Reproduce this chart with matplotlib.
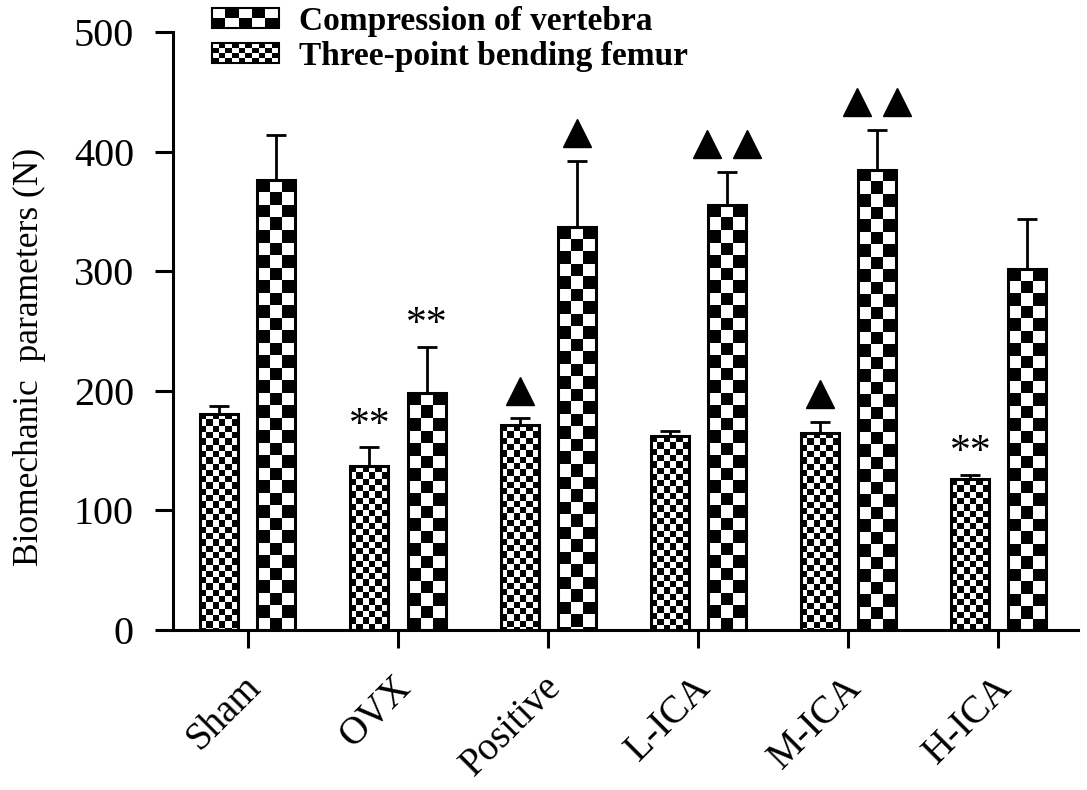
import numpy as np
import matplotlib
matplotlib.use('Agg')
import matplotlib.pyplot as plt
import matplotlib.transforms as mtransforms
from matplotlib.patches import Rectangle
from matplotlib.legend_handler import HandlerBase

groups = ['Sham', 'OVX', 'Positive', 'L-ICA', 'M-ICA', 'H-ICA']
femur = [181, 137, 171, 162, 165, 126]
femur_err = [6, 16, 6, 4, 9, 4]
vertebra = [376, 198, 337, 355, 385, 302]
vertebra_err = [38, 39, 55, 28, 33, 42]
femur_marks = ['', '**', '^', '', '^', '**']
vertebra_marks = ['', '**', '^', '^^', '^^', '']

plt.rcParams['font.family'] = ['Liberation Serif', 'DejaVu Serif']


class CheckerHandler(HandlerBase):
    def __init__(self, rows, cols):
        super().__init__()
        self.rows = rows
        self.cols = cols

    def create_artists(self, legend, orig_handle, xdescent, ydescent,
                       width, height, fontsize, trans):
        arts = []
        cw = width / self.cols
        ch = height / self.rows
        for r in range(self.rows):
            for c in range(self.cols):
                if (r + c) % 2 == 0:
                    arts.append(Rectangle((-xdescent + c * cw, -ydescent + r * ch), cw, ch,
                                          facecolor='black', edgecolor='none', transform=trans))
        arts.append(Rectangle((-xdescent, -ydescent), width, height, facecolor='none',
                              edgecolor='black', lw=1.5, transform=trans))
        return arts


fig = plt.figure(figsize=(10.87, 7.90), dpi=100)
ax = fig.add_axes([0.159, 0.2025, 0.8327, 0.757])
ax.set_xlim(-0.5, 5.53)
ax.set_ylim(0, 500)
ax.set_autoscale_on(False)

x = np.arange(len(groups))
w = 0.253
off = 0.19

bars_f = ax.bar(x - off, femur, w, facecolor='white', edgecolor='black', lw=2.2, zorder=3)
bars_v = ax.bar(x + off, vertebra, w, facecolor='white', edgecolor='black', lw=2.2, zorder=3)
ax.errorbar(x - off, femur, yerr=[np.zeros(len(femur)), femur_err], fmt='none',
            ecolor='black', elinewidth=2, capsize=7.5, capthick=2, zorder=2)
ax.errorbar(x + off, vertebra, yerr=[np.zeros(len(vertebra)), vertebra_err], fmt='none',
            ecolor='black', elinewidth=2, capsize=7.5, capthick=2, zorder=2)

# checker fill, clipped to each bar
px_h = 0.757 * 790
dy_px = 500 / px_h


def checker(bars, ncols, cell_px):
    for b in bars:
        x0, bw, top = b.get_x(), b.get_width(), b.get_height()
        ch = cell_px * dy_px
        nrows = int(np.ceil(top / ch)) + 1
        r, c = np.indices((nrows, ncols))
        img = ((r + c) % 2).astype(float)
        im = ax.imshow(img, cmap='gray', vmin=0, vmax=1, interpolation='nearest',
                       extent=(x0, x0 + bw, top - nrows * ch, top), origin='upper',
                       aspect='auto', zorder=2.5)
        im.set_clip_path(b)
        b.set_facecolor('none')


checker(bars_f, 6, 6.3)
checker(bars_v, 3, 12.5)
ax.set_xlim(-0.5, 5.53)
ax.set_ylim(0, 500)


def mark(xs, tops, marks):
    for xi, t, m in zip(xs, tops, marks):
        if m == '**':
            ax.annotate('**', xy=(xi, t), xytext=(0.5, 8), textcoords='offset points',
                        ha='center', va='baseline', fontsize=30)
        elif m:
            n = len(m)
            dxs = [0] if n == 1 else [-14.4, 14.4]
            for dx in dxs:
                tr = ax.transData + mtransforms.ScaledTranslation(dx / 72, 20 / 72, fig.dpi_scale_trans)
                ax.plot([xi], [t], marker='^', color='black', markersize=20, transform=tr,
                        clip_on=False, zorder=4)


mark(x - off, np.add(femur, femur_err), femur_marks)
mark(x + off, np.add(vertebra, vertebra_err), vertebra_marks)

for s in ['top', 'right']:
    ax.spines[s].set_visible(False)
for s in ['left', 'bottom']:
    ax.spines[s].set_linewidth(2.2)
ax.tick_params(axis='both', direction='out', length=13, width=2.2, labelsize=29)
ax.tick_params(axis='y', pad=15)
ax.tick_params(axis='x', pad=15, labelsize=28)
ax.set_yticks([0, 100, 200, 300, 400, 500])
ax.set_xticks(x)
ax.set_xticklabels(groups, rotation=45, ha='right', rotation_mode='anchor')
shift = mtransforms.ScaledTranslation(-4 / 72, 0, fig.dpi_scale_trans)
for lab in ax.get_xticklabels():
    lab.set_transform(lab.get_transform() + shift)
ax.set_ylabel('Biomechanic  parameters (N)', fontsize=25.5)
ax.yaxis.set_label_coords(-0.14, 0.457)

h_v = Rectangle((0, 0), 1, 1)
h_f = Rectangle((0, 0), 1, 1)
fig.legend([h_v, h_f], ['Compression of vertebra', 'Three-point bending femur'],
           handler_map={h_v: CheckerHandler(2, 5), h_f: CheckerHandler(4, 10)},
           loc='upper left', bbox_to_anchor=(212 / 1087, 1 - 6 / 790), frameon=False,
           borderpad=0, borderaxespad=0, handlelength=2.0, handleheight=0.55,
           handletextpad=0.6, labelspacing=0.12, prop={'weight': 'bold', 'size': 24})

fig.savefig('out.png', dpi=100)
